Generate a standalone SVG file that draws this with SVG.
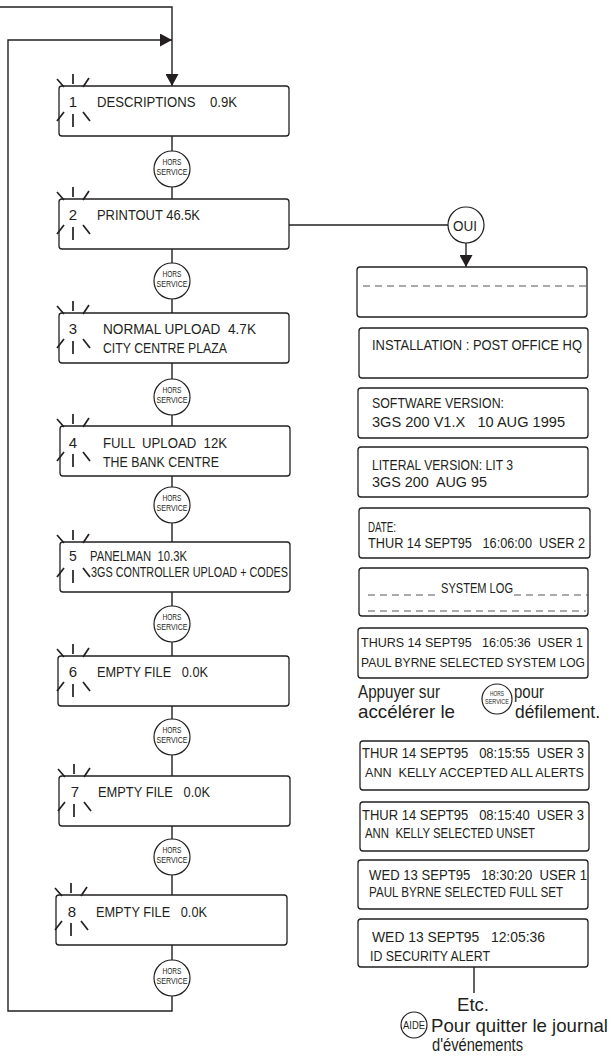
<svg xmlns="http://www.w3.org/2000/svg" xmlns:xlink="http://www.w3.org/1999/xlink" width="612" height="1060" viewBox="0 0 612 1060">
<style>
  .box { fill: #fff; stroke: #231f20; stroke-width: 1.3; }
  .ln { fill: none; stroke: #231f20; stroke-width: 1.4; }
  .ray { stroke: #231f20; stroke-width: 1.7; stroke-linecap: butt; }
  .circ { fill: #fff; stroke: #231f20; stroke-width: 1.2; }
  .dash { fill: none; stroke: #555; stroke-width: 1; stroke-dasharray: 7 5; }
  text { font-family: "Liberation Sans", Arial, sans-serif; fill: #231f20; }
  .t { font-size: 15px; }
  .s { font-size: 14px; }
  .n { font-size: 13px; }
  .h { font-size: 8.5px; }
  .hs { font-size: 6.5px; }
  .big { font-size: 18.5px; }
  .aide { font-size: 11px; }
</style>
<defs>
  <marker id="arr" markerUnits="userSpaceOnUse" markerWidth="12" markerHeight="13" refX="12" refY="6.5" orient="auto">
    <path d="M0,0 L12,6.5 L0,13 Z" fill="#231f20"/>
  </marker>
  <g id="spark">
    <line class="ray" x1="-16" y1="-7" x2="-9" y2="1"/>
    <line class="ray" x1="0" y1="-12" x2="0" y2="-2"/>
    <line class="ray" x1="16" y1="-8" x2="10" y2="1"/>
    <line class="ray" x1="-9" y1="26" x2="-16" y2="35"/>
    <line class="ray" x1="0" y1="28" x2="0" y2="41"/>
    <line class="ray" x1="10" y1="26" x2="17" y2="35"/>
  </g>
</defs>

<g id="connectors">
  <path class="ln" d="M0,7 H172 V86" marker-end="url(#arr)"/>
  <path class="ln" d="M172,945 V1011 H8 V40 H172" marker-end="url(#arr)"/>
  <path class="ln" d="M172,136 V199"/>
  <path class="ln" d="M172,249 V313"/>
  <path class="ln" d="M172,363 V426"/>
  <path class="ln" d="M172,476 V542"/>
  <path class="ln" d="M172,592 V656"/>
  <path class="ln" d="M172,706 V776"/>
  <path class="ln" d="M172,826 V895"/>
  <path class="ln" d="M289,225 H448"/>
  <path class="ln" d="M466,243 V267" marker-end="url(#arr)"/>
  <path class="ln" d="M474,967 V993"/>
</g>

<!-- Left column -->
<g id="box1">
  <rect class="box" x="59" y="86" width="230" height="50" rx="3"/>
  <use xlink:href="#spark" x="73" y="86"/>
  <text class="t" x="73" y="107" text-anchor="middle">1</text>
  <text class="t" x="97" y="107" xml:space="preserve" textLength="140" lengthAdjust="spacingAndGlyphs">DESCRIPTIONS    0.9K</text>
</g>
<g id="box2">
  <rect class="box" x="59" y="199" width="230" height="50" rx="3"/>
  <use xlink:href="#spark" x="73" y="199"/>
  <text class="t" x="73" y="220" text-anchor="middle">2</text>
  <text class="t" x="97" y="220" textLength="103" lengthAdjust="spacingAndGlyphs">PRINTOUT 46.5K</text>
</g>
<g id="box3">
  <rect class="box" x="59" y="313" width="230" height="50" rx="3"/>
  <use xlink:href="#spark" x="73" y="313"/>
  <text class="t" x="73" y="334" text-anchor="middle">3</text>
  <text class="t" x="103" y="334" xml:space="preserve" textLength="153" lengthAdjust="spacingAndGlyphs">NORMAL UPLOAD  4.7K</text>
  <text class="t" x="103" y="353" textLength="124" lengthAdjust="spacingAndGlyphs">CITY CENTRE PLAZA</text>
</g>
<g id="box4">
  <rect class="box" x="60" y="426" width="230" height="50" rx="3"/>
  <use xlink:href="#spark" x="73" y="426"/>
  <text class="t" x="73" y="448" text-anchor="middle">4</text>
  <text class="t" x="103" y="448" xml:space="preserve" textLength="124" lengthAdjust="spacingAndGlyphs">FULL  UPLOAD  12K</text>
  <text class="t" x="103" y="467" textLength="116" lengthAdjust="spacingAndGlyphs">THE BANK CENTRE</text>
</g>
<g id="box5">
  <rect class="box" x="60" y="542" width="230" height="50" rx="3"/>
  <use xlink:href="#spark" x="73" y="542"/>
  <text class="s" x="73" y="561" text-anchor="middle">5</text>
  <text class="s" x="90" y="561" xml:space="preserve" textLength="97" lengthAdjust="spacingAndGlyphs">PANELMAN  10.3K</text>
  <text class="s" x="91" y="577" textLength="197" lengthAdjust="spacingAndGlyphs">3GS CONTROLLER UPLOAD + CODES</text>
</g>
<g id="box6">
  <rect class="box" x="58" y="656" width="231" height="50" rx="3"/>
  <use xlink:href="#spark" x="73" y="656"/>
  <text class="t" x="73" y="677" text-anchor="middle">6</text>
  <text class="t" x="97" y="677" xml:space="preserve" textLength="111" lengthAdjust="spacingAndGlyphs">EMPTY FILE   0.0K</text>
</g>
<g id="box7">
  <rect class="box" x="59" y="776" width="231" height="50" rx="3"/>
  <use xlink:href="#spark" x="74" y="776"/>
  <text class="t" x="75" y="797" text-anchor="middle">7</text>
  <text class="t" x="98" y="797" xml:space="preserve" textLength="112" lengthAdjust="spacingAndGlyphs">EMPTY FILE   0.0K</text>
</g>
<g id="box8">
  <rect class="box" x="56" y="895" width="231" height="50" rx="3"/>
  <use xlink:href="#spark" x="71" y="895"/>
  <text class="t" x="72" y="917" text-anchor="middle">8</text>
  <text class="t" x="96" y="917" xml:space="preserve" textLength="111" lengthAdjust="spacingAndGlyphs">EMPTY FILE   0.0K</text>
</g>

<!-- HORS SERVICE buttons -->
<g id="hs1"><circle class="circ" cx="172" cy="169" r="18"/><text class="h" x="172" y="165" text-anchor="middle" textLength="19" lengthAdjust="spacingAndGlyphs">HORS</text><text class="h" x="172" y="175" text-anchor="middle" textLength="31" lengthAdjust="spacingAndGlyphs">SERVICE</text></g>
<g id="hs2"><circle class="circ" cx="172" cy="281" r="18"/><text class="h" x="172" y="277" text-anchor="middle" textLength="19" lengthAdjust="spacingAndGlyphs">HORS</text><text class="h" x="172" y="287" text-anchor="middle" textLength="31" lengthAdjust="spacingAndGlyphs">SERVICE</text></g>
<g id="hs3"><circle class="circ" cx="172" cy="397" r="18"/><text class="h" x="172" y="393" text-anchor="middle" textLength="19" lengthAdjust="spacingAndGlyphs">HORS</text><text class="h" x="172" y="403" text-anchor="middle" textLength="31" lengthAdjust="spacingAndGlyphs">SERVICE</text></g>
<g id="hs4"><circle class="circ" cx="172" cy="505" r="18"/><text class="h" x="172" y="501" text-anchor="middle" textLength="19" lengthAdjust="spacingAndGlyphs">HORS</text><text class="h" x="172" y="511" text-anchor="middle" textLength="31" lengthAdjust="spacingAndGlyphs">SERVICE</text></g>
<g id="hs5"><circle class="circ" cx="172" cy="624" r="18"/><text class="h" x="172" y="620" text-anchor="middle" textLength="19" lengthAdjust="spacingAndGlyphs">HORS</text><text class="h" x="172" y="630" text-anchor="middle" textLength="31" lengthAdjust="spacingAndGlyphs">SERVICE</text></g>
<g id="hs6"><circle class="circ" cx="172" cy="737" r="18"/><text class="h" x="172" y="733" text-anchor="middle" textLength="19" lengthAdjust="spacingAndGlyphs">HORS</text><text class="h" x="172" y="743" text-anchor="middle" textLength="31" lengthAdjust="spacingAndGlyphs">SERVICE</text></g>
<g id="hs7"><circle class="circ" cx="172" cy="857" r="18"/><text class="h" x="172" y="853" text-anchor="middle" textLength="19" lengthAdjust="spacingAndGlyphs">HORS</text><text class="h" x="172" y="863" text-anchor="middle" textLength="31" lengthAdjust="spacingAndGlyphs">SERVICE</text></g>
<g id="hs8"><circle class="circ" cx="172" cy="978" r="18"/><text class="h" x="172" y="974" text-anchor="middle" textLength="19" lengthAdjust="spacingAndGlyphs">HORS</text><text class="h" x="172" y="984" text-anchor="middle" textLength="31" lengthAdjust="spacingAndGlyphs">SERVICE</text></g>

<g id="oui">
  <circle class="circ" cx="466" cy="225" r="18"/>
  <text class="t" x="465" y="231" text-anchor="middle" textLength="24" lengthAdjust="spacingAndGlyphs">OUI</text>
</g>

<!-- Right column -->
<g id="r0">
  <rect class="box" x="357" y="267" width="230" height="50" rx="3"/>
  <line class="dash" x1="363" y1="286" x2="586" y2="286"/>
</g>
<g id="r1">
  <rect class="box" x="359" y="328" width="229" height="50" rx="3"/>
  <text class="s" x="372" y="350" textLength="210" lengthAdjust="spacingAndGlyphs">INSTALLATION : POST OFFICE HQ</text>
</g>
<g id="r2">
  <rect class="box" x="358" y="388" width="230" height="50" rx="3"/>
  <text class="t" x="372" y="408" textLength="132" lengthAdjust="spacingAndGlyphs">SOFTWARE VERSION:</text>
  <text class="t" x="372" y="427" xml:space="preserve" textLength="193" lengthAdjust="spacingAndGlyphs">3GS 200 V1.X   10 AUG 1995</text>
</g>
<g id="r3">
  <rect class="box" x="358" y="447" width="230" height="50" rx="3"/>
  <text class="t" x="372" y="470" textLength="141" lengthAdjust="spacingAndGlyphs">LITERAL VERSION: LIT 3</text>
  <text class="t" x="372" y="487" xml:space="preserve" textLength="115" lengthAdjust="spacingAndGlyphs">3GS 200  AUG 95</text>
</g>
<g id="r4">
  <rect class="box" x="359" y="508" width="231" height="50" rx="3"/>
  <text class="s" x="368" y="532" textLength="28" lengthAdjust="spacingAndGlyphs">DATE:</text>
  <text class="s" x="368" y="548" xml:space="preserve" textLength="217" lengthAdjust="spacingAndGlyphs">THUR 14 SEPT95   16:06:00  USER 2</text>
</g>
<g id="r5">
  <rect class="box" x="359" y="568" width="229" height="48" rx="3"/>
  <line class="dash" x1="368" y1="595" x2="440" y2="595"/>
  <text class="s" x="441" y="593" textLength="72" lengthAdjust="spacingAndGlyphs">SYSTEM LOG</text>
  <line class="dash" x1="514" y1="595" x2="588" y2="595"/>
  <line class="dash" x1="368" y1="611" x2="586" y2="611"/>
</g>
<g id="r6">
  <rect class="box" x="358" y="628" width="230" height="50" rx="3"/>
  <text class="n" x="361" y="647" xml:space="preserve" textLength="222" lengthAdjust="spacingAndGlyphs">THURS 14 SEPT95   16:05:36  USER 1</text>
  <text class="n" x="361" y="667" textLength="224" lengthAdjust="spacingAndGlyphs">PAUL BYRNE SELECTED SYSTEM LOG</text>
</g>
<g id="scroll-note">
  <text class="big" x="358" y="698" textLength="82" lengthAdjust="spacingAndGlyphs">Appuyer sur</text>
  <text class="big" x="514" y="698" textLength="30" lengthAdjust="spacingAndGlyphs">pour</text>
  <text class="big" x="358" y="718" textLength="97" lengthAdjust="spacingAndGlyphs">accélérer le</text>
  <text class="big" x="515" y="718" textLength="85" lengthAdjust="spacingAndGlyphs">défilement.</text>
  <circle class="circ" cx="497" cy="699" r="15"/>
  <text class="hs" x="497" y="696" text-anchor="middle" textLength="14" lengthAdjust="spacingAndGlyphs">HORS</text>
  <text class="hs" x="497" y="704" text-anchor="middle" textLength="24" lengthAdjust="spacingAndGlyphs">SERVICE</text>
</g>
<g id="r7">
  <rect class="box" x="360" y="741" width="229" height="49" rx="3"/>
  <text class="s" x="362" y="758" xml:space="preserve" textLength="222" lengthAdjust="spacingAndGlyphs">THUR 14 SEPT95   08:15:55  USER 3</text>
  <text class="n" x="365" y="777" xml:space="preserve" textLength="219" lengthAdjust="spacingAndGlyphs">ANN  KELLY ACCEPTED ALL ALERTS</text>
</g>
<g id="r8">
  <rect class="box" x="360" y="802" width="229" height="49" rx="3"/>
  <text class="s" x="362" y="820" xml:space="preserve" textLength="222" lengthAdjust="spacingAndGlyphs">THUR 14 SEPT95   08:15:40  USER 3</text>
  <text class="s" x="365" y="838" xml:space="preserve" textLength="170" lengthAdjust="spacingAndGlyphs">ANN  KELLY SELECTED UNSET</text>
</g>
<g id="r9">
  <rect class="box" x="358" y="860" width="230" height="49" rx="3"/>
  <text class="s" x="369" y="880" xml:space="preserve" textLength="218" lengthAdjust="spacingAndGlyphs">WED 13 SEPT95   18:30:20  USER 1</text>
  <text class="s" x="369" y="897" textLength="194" lengthAdjust="spacingAndGlyphs">PAUL BYRNE SELECTED FULL SET</text>
</g>
<g id="r10">
  <rect class="box" x="358" y="919" width="230" height="48" rx="3"/>
  <text class="s" x="372" y="942" xml:space="preserve" textLength="173" lengthAdjust="spacingAndGlyphs">WED 13 SEPT95   12:05:36</text>
  <text class="s" x="370" y="961" textLength="120" lengthAdjust="spacingAndGlyphs">ID SECURITY ALERT</text>
</g>
<g id="exit-note">
  <text class="big" x="457" y="1011" textLength="32" lengthAdjust="spacingAndGlyphs">Etc.</text>
  <circle class="circ" cx="414" cy="1025" r="13"/>
  <text class="aide" x="414" y="1029" text-anchor="middle" textLength="22" lengthAdjust="spacingAndGlyphs">AIDE</text>
  <text class="big" x="431" y="1032" textLength="177" lengthAdjust="spacingAndGlyphs">Pour quitter le journal</text>
  <text class="big" x="432" y="1051" textLength="91" lengthAdjust="spacingAndGlyphs">d'événements</text>
</g>
</svg>
